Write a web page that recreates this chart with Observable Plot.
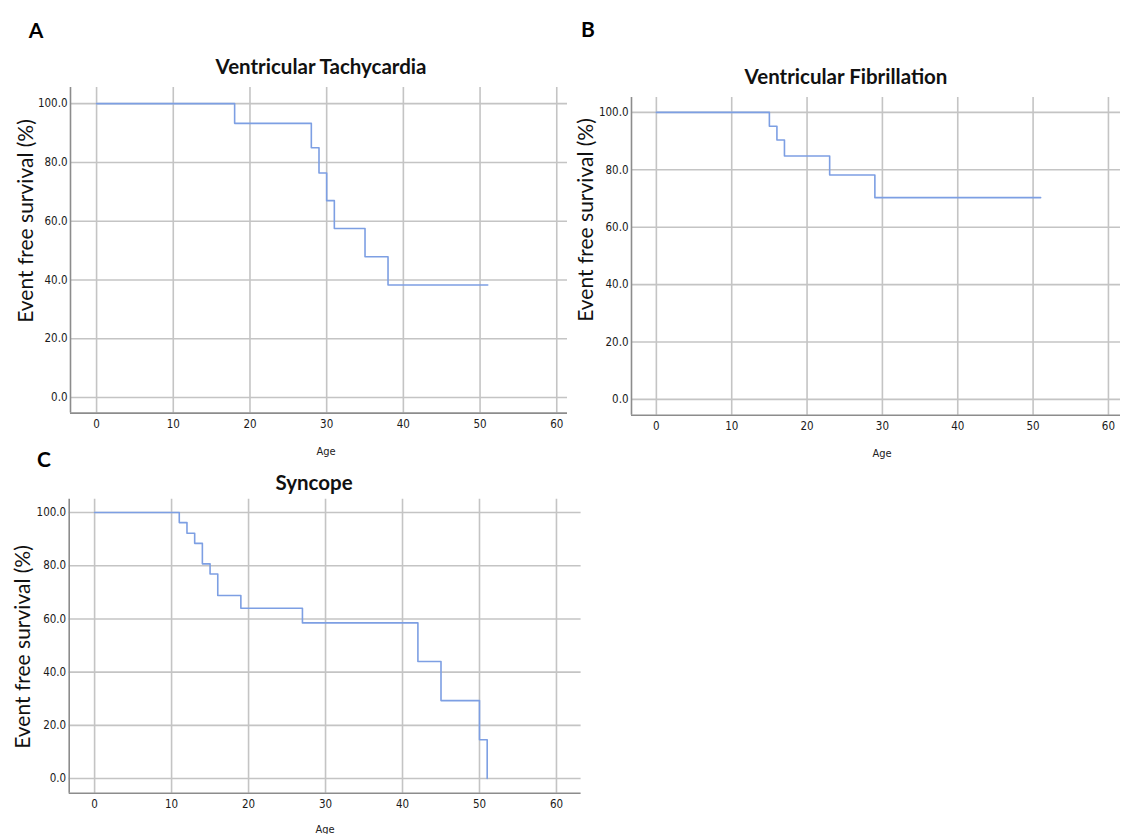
<!DOCTYPE html>
<html>
<head>
<meta charset="utf-8">
<script src="https://cdn.jsdelivr.net/npm/d3@7"></script>
<script src="https://cdn.jsdelivr.net/npm/@observablehq/plot@0.6"></script>
<style>
  html, body { margin: 0; padding: 0; background: #fff; }
  #root { position: relative; width: 1121px; height: 834px; overflow: hidden; background: #fff; }
  .lbl { position: absolute; transform: translate(-50%, -50%); white-space: nowrap; color: #000; }
  .panel { position: absolute; font-family: Lato, "Open Sans", sans-serif; font-weight: 700; font-size: 21px; }
  .title { font-family: Lato, "Open Sans", sans-serif; font-weight: 700; font-size: 20.5px; color: #111; }
  .ylab { font-family: Lato, "Open Sans", sans-serif; font-size: 21px; transform: translate(-50%, -50%) rotate(-90deg); color: #111; }
  .age { font-family: "Liberation Sans Narrow", "DejaVu Sans Condensed", "Liberation Sans", sans-serif; font-stretch: condensed; font-size: 11px; color: #222; }
  .plotbox { position: absolute; }
</style>
</head>
<body>
<div id="root"></div>
<script>
// ---- Data ----
const xTicks = [0, 10, 20, 30, 40, 50, 60];
const yTicks = [0, 20, 40, 60, 80, 100];

// Panel A: Ventricular Tachycardia
const vtAge = [0, 18, 28, 29, 30, 31, 35, 38, 51];
const vtSurvival = [100, 93.3, 85.0, 76.4, 67.0, 57.5, 47.9, 38.3, 38.3];

// Panel B: Ventricular Fibrillation
const vfAge = [0, 15, 16, 17, 23, 29, 51];
const vfSurvival = [100, 95.2, 90.4, 84.8, 78.2, 70.3, 70.3];

// Panel C: Syncope
const syAge = [0, 11, 12, 13, 14, 15, 16, 19, 27, 42, 45, 50, 51];
const sySurvival = [100, 96.2, 92.2, 88.4, 80.7, 76.9, 68.8, 64.0, 58.5, 44.0, 29.3, 14.6, 0];

const titles = ["Ventricular Tachycardia", "Ventricular Fibrillation", "Syncope"];
const panelLetters = ["A", "B", "C"];
const yLabel = "Event free survival (%)";
const xLabel = "Age";

// ---- Drawing ----
const root = document.getElementById("root");

function km(ages, surv, cfg) {
  const data = ages.map((a, i) => ({age: a, s: surv[i]}));
  const svg = Plot.plot({
    width: cfg.width,
    height: cfg.height,
    marginLeft: cfg.ml, marginRight: cfg.mr, marginTop: cfg.mt, marginBottom: cfg.mb,
    style: {background: "transparent", fontFamily: "'Liberation Sans Narrow', 'DejaVu Sans Condensed', 'Liberation Sans', sans-serif", fontStretch: "condensed", fontSize: "11.5px", color: "#1a1a1a", overflow: "visible"},
    x: {domain: cfg.xd, ticks: xTicks, tickSize: 0, tickPadding: 7, label: null},
    y: {domain: cfg.yd, ticks: yTicks, tickSize: 0, tickPadding: 3, tickFormat: d3.format(".1f"), label: null},
    marks: [
      Plot.gridX(xTicks, {stroke: "#c4c4c4", strokeOpacity: 1, strokeWidth: 1.6}),
      Plot.gridY(yTicks, {stroke: "#c4c4c4", strokeOpacity: 1, strokeWidth: 1.6}),
      Plot.ruleX([cfg.xd[0]], {stroke: "#8c8c8c", strokeWidth: 1.6}),
      Plot.ruleY([cfg.yd[0]], {stroke: "#8c8c8c", strokeWidth: 1.6}),
      Plot.line(data, {x: "age", y: "s", curve: "step-after", stroke: "#7d9fe3", strokeWidth: 1.6})
    ]
  });
  const box = document.createElement("div");
  box.className = "plotbox";
  box.style.left = cfg.left + "px";
  box.style.top = cfg.top + "px";
  box.appendChild(svg);
  root.appendChild(box);
}

km(vtAge, vtSurvival, {left: 0, top: 0, width: 575, height: 440, ml: 70, mr: 8, mt: 87, mb: 27.4,
  xd: [-3.4, 61.4], yd: [-5.3, 105.5]});
km(vfAge, vfSurvival, {left: 600, top: 0, width: 521, height: 440, ml: 31, mr: 1, mt: 97, mb: 25.3,
  xd: [-3.3, 61.6], yd: [-5.5, 105.2]});
km(syAge, sySurvival, {left: 0, top: 445, width: 600, height: 389, ml: 68.7, mr: 19.4, mt: 53.7, mb: 41.3,
  xd: [-3.3, 63.2], yd: [-5.5, 105]});

function addText(cls, text, x, y) {
  const d = document.createElement("div");
  d.className = "lbl " + cls;
  d.textContent = text;
  d.style.left = x + "px";
  d.style.top = y + "px";
  root.appendChild(d);
}

addText("panel", panelLetters[0], 36, 29);
addText("panel", panelLetters[1], 588, 28);
addText("panel", panelLetters[2], 44, 458);

addText("title", titles[0], 321, 66);
addText("title", titles[1], 846, 76);
addText("title", titles[2], 314, 482);

addText("ylab", yLabel, 24, 221);
addText("ylab", yLabel, 584, 220);
addText("ylab", yLabel, 21, 647);

addText("age", xLabel, 326, 451);
addText("age", xLabel, 882, 453);
addText("age", xLabel, 325, 829);
</script>
</body>
</html>
